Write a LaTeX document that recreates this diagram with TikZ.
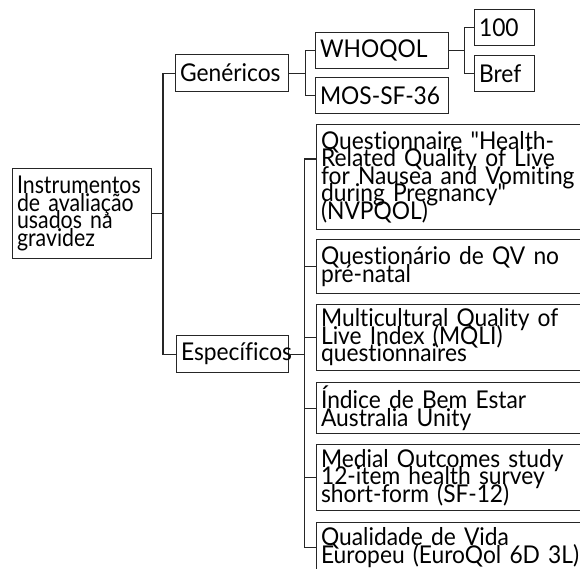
\documentclass[tikz,border=0pt]{standalone}
\usepackage{fontspec}
\setmainfont{Lato}[Ligatures={TeXOff,CommonOff}, FakeStretch=0.93]
\newcommand\boxfnt{\fontsize{24.5}{17.5}\selectfont\lineskiplimit=-100pt\relax\lineskip=0pt\relax}
\newcommand\rootfnt{\addfontfeature{FakeStretch=0.87}}
\tikzset{
  box/.style={draw=black!85, line width=1.1pt, inner xsep=4.5pt, inner ysep=0pt,
    align=left, anchor=north west, font=\boxfnt},
  link/.style={draw=black!85, line width=1.1pt},
}
\begin{document}
\begin{tikzpicture}[x=1pt,y=-1pt]
\path[use as bounding box] (0,0) rectangle (580,568);
\clip (0,0) rectangle (580,568);
\node[box, text width=130pt, minimum height=90pt] (root) at (12,168) {\rootfnt Instrumentos\\de avaliação\\usados na\\gravidez};
\node[box, text width=104pt, minimum height=37pt] (gen) at (175,54) {Genéricos};
\node[box, text width=103pt, minimum height=37pt] (esp) at (176,335) {Específicos};
\node[box, text width=124pt, minimum height=36pt] (who) at (315,32) {WHOQOL};
\node[box, text width=124pt, minimum height=36pt] (mos) at (315,77) {MOS-SF-36};
\node[box, text width=51pt, minimum height=36pt] (b100) at (474,9) {100};
\node[box, text width=51pt, minimum height=36pt] (bref) at (474,55) {Bref};
\node[box, text width=271pt, minimum height=105pt] (q1) at (316,124) {Questionnaire "Health-\\Related Quality of Live\\for Nausea and Vomiting\\during Pregnancy"\\(NVPQOL)};
\node[box, text width=271pt, minimum height=54pt] (q2) at (316,239) {Questionário de QV no\\pré-natal};
\node[box, text width=271pt, minimum height=66pt] (q3) at (316,304) {Multicultural Quality of\\Live Index (MQLI)\\questionnaires};
\node[box, text width=271pt, minimum height=51pt] (q4) at (316,382) {Índice de Bem Estar\\Australia Unity};
\node[box, text width=271pt, minimum height=66pt] (q5) at (316,444) {Medial Outcomes study\\12-item health survey\\short-form (SF-12)};
\node[box, text width=271pt, minimum height=50pt] (q6) at (316,522) {Qualidade de Vida\\Europeu (EuroQol 6D 3L)};
% connectors
\draw[link] (gen.west) -- ++(-12,0) |- (root.east);
\draw[link] (esp.west) -- ++(-13,0) |- (root.east);
\draw[link] (gen.east) -- ++(16,0) coordinate (gj);
\draw[link] (gj) |- (who.west);
\draw[link] (gj) |- (mos.west);
\draw[link] (who.east) -- ++(15,0) coordinate (wj);
\draw[link] (wj) |- (b100.west);
\draw[link] (wj) |- (bref.west);
\draw[link] (esp.east) -- ++(15,0) coordinate (ej);
\draw[link] (ej) |- ([yshift=-35pt]q1.north west);
\draw[link] (ej) |- (q2.west);
\draw[link] (ej) |- (q3.west);
\draw[link] (ej) |- (q4.west);
\draw[link] (ej) |- (q5.west);
\draw[link] (ej) |- (q6.west);
\end{tikzpicture}
\end{document}
